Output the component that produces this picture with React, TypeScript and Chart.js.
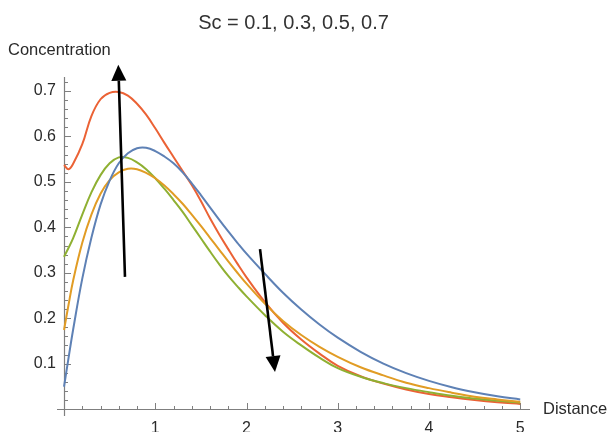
import React, { useEffect, useRef } from 'react';
import { Chart, registerables } from 'chart.js';

Chart.register(...registerables);

// ---------- data ----------
const titleText = 'Sc = 0.1, 0.3, 0.5, 0.7';
const yAxisLabel = 'Concentration';
const xAxisLabel = 'Distance';
const seriesLabels = ['Sc = 0.1', 'Sc = 0.3', 'Sc = 0.5', 'Sc = 0.7'];
const seriesColors = ['#5E81B5', '#E19C24', '#8FB032', '#EB6235'];

const distance = [0, 0.05, 0.1, 0.2, 0.3, 0.4, 0.5, 0.6, 0.7, 0.8, 0.9, 1.0, 1.1, 1.2, 1.3, 1.4, 1.5, 1.6, 1.7, 1.8, 1.9, 2.0, 2.2, 2.4, 2.6, 2.8, 3.0, 3.25, 3.5, 3.75, 4.0, 4.25, 4.5, 4.75, 5.0];

const blueSeries = [0.049, 0.113, 0.175, 0.287, 0.377, 0.45, 0.503, 0.541, 0.563, 0.574, 0.575, 0.568, 0.556, 0.541, 0.521, 0.497, 0.471, 0.444, 0.417, 0.391, 0.366, 0.342, 0.298, 0.256, 0.219, 0.186, 0.157, 0.126, 0.1, 0.079, 0.062, 0.048, 0.037, 0.028, 0.021];
const orangeSeries = [0.174, 0.23, 0.283, 0.366, 0.428, 0.474, 0.504, 0.521, 0.529, 0.528, 0.52, 0.508, 0.492, 0.473, 0.452, 0.428, 0.403, 0.377, 0.351, 0.325, 0.3, 0.276, 0.232, 0.194, 0.163, 0.137, 0.115, 0.092, 0.074, 0.058, 0.046, 0.036, 0.027, 0.021, 0.016];
const greenSeries = [0.335, 0.355, 0.376, 0.428, 0.477, 0.515, 0.541, 0.554, 0.553, 0.543, 0.528, 0.508, 0.485, 0.46, 0.434, 0.405, 0.376, 0.347, 0.319, 0.293, 0.27, 0.248, 0.207, 0.17, 0.14, 0.113, 0.09, 0.071, 0.057, 0.046, 0.037, 0.029, 0.023, 0.018, 0.014];
const redSeries = [0.537, 0.528, 0.54, 0.583, 0.645, 0.682, 0.696, 0.698, 0.69, 0.672, 0.648, 0.618, 0.586, 0.555, 0.524, 0.493, 0.458, 0.42, 0.385, 0.352, 0.32, 0.29, 0.236, 0.19, 0.153, 0.122, 0.095, 0.072, 0.056, 0.043, 0.033, 0.026, 0.02, 0.015, 0.011];

const xMajorTicks = [1, 2, 3, 4, 5];
const xMinorTicks = [0.2, 0.4, 0.6, 0.8, 1.2, 1.4, 1.6, 1.8, 2.2, 2.4, 2.6, 2.8, 3.2, 3.4, 3.6, 3.8, 4.2, 4.4, 4.6, 4.8, 5.0];
const yMajorTicks = [0.1, 0.2, 0.3, 0.4, 0.5, 0.6, 0.7];
const yMinorTicks = [0.02, 0.04, 0.06, 0.08, 0.12, 0.14, 0.16, 0.18, 0.22, 0.24, 0.26, 0.28, 0.32, 0.34, 0.36, 0.38, 0.42, 0.44, 0.46, 0.48, 0.52, 0.54, 0.56, 0.58, 0.62, 0.64, 0.66, 0.68, 0.72];

// arrows: [x, y] in data units, tail -> head
const arrowUpTail = [0.668, 0.291];
const arrowUpHead = [0.595, 0.758];
const arrowDownTail = [2.148, 0.352];
const arrowDownHead = [2.312, 0.0815];

const xRange = [-0.077, 5.107];
const yRange = [-0.0154, 0.731];

const FONT = "'Liberation Sans', Arial, sans-serif";
const AXIS_COLOR = '#7f7f7f';
const TEXT_COLOR = '#2a2a2a';

function toXY(ys: number[]) {
  return distance.map((d, i) => ({ x: d, y: ys[i] }));
}

const mmaAxesPlugin = {
  id: 'mmaAxes',
  beforeDatasetsDraw(chart: any) {
    const { ctx, chartArea, scales } = chart;
    const xs = scales.x;
    const ys = scales.y;
    const x0 = Math.round(xs.getPixelForValue(0)) + 0.5;
    const y0 = Math.round(ys.getPixelForValue(0)) + 0.5;
    ctx.save();
    ctx.strokeStyle = AXIS_COLOR;
    ctx.lineWidth = 1.2;
    ctx.beginPath();
    ctx.moveTo(chartArea.left, y0);
    ctx.lineTo(chartArea.right, y0);
    ctx.moveTo(x0, chartArea.top);
    ctx.lineTo(x0, chartArea.bottom);
    ctx.stroke();
    ctx.lineWidth = 1;
    ctx.beginPath();
    xMinorTicks.forEach((v) => {
      const p = Math.round(xs.getPixelForValue(v)) + 0.5;
      ctx.moveTo(p, y0);
      ctx.lineTo(p, y0 - 3.5);
    });
    xMajorTicks.forEach((v) => {
      const p = Math.round(xs.getPixelForValue(v)) + 0.5;
      ctx.moveTo(p, y0);
      ctx.lineTo(p, y0 - 6.5);
    });
    yMinorTicks.forEach((v) => {
      const p = Math.round(ys.getPixelForValue(v)) + 0.5;
      ctx.moveTo(x0, p);
      ctx.lineTo(x0 + 3.5, p);
    });
    yMajorTicks.forEach((v) => {
      const p = Math.round(ys.getPixelForValue(v)) + 0.5;
      ctx.moveTo(x0, p);
      ctx.lineTo(x0 + 6.5, p);
    });
    ctx.stroke();
    ctx.restore();
  },
  afterDatasetsDraw(chart: any) {
    const { ctx, scales } = chart;
    const xs = scales.x;
    const ys = scales.y;
    const drawArrow = (tail: number[], head: number[]) => {
      const tx = xs.getPixelForValue(tail[0]);
      const ty = ys.getPixelForValue(tail[1]);
      const hx = xs.getPixelForValue(head[0]);
      const hy = ys.getPixelForValue(head[1]);
      const ang = Math.atan2(hy - ty, hx - tx);
      const headLen = 16;
      const headHalf = 7.5;
      const bx = hx - headLen * Math.cos(ang);
      const by = hy - headLen * Math.sin(ang);
      ctx.save();
      ctx.strokeStyle = '#000';
      ctx.fillStyle = '#000';
      ctx.lineWidth = 2.6;
      ctx.beginPath();
      ctx.moveTo(tx, ty);
      ctx.lineTo(bx, by);
      ctx.stroke();
      ctx.beginPath();
      ctx.moveTo(hx, hy);
      ctx.lineTo(bx + headHalf * Math.sin(ang), by - headHalf * Math.cos(ang));
      ctx.lineTo(bx - headHalf * Math.sin(ang), by + headHalf * Math.cos(ang));
      ctx.closePath();
      ctx.fill();
      ctx.restore();
    };
    drawArrow(arrowUpTail, arrowUpHead);
    drawArrow(arrowDownTail, arrowDownHead);
  },
  afterDraw(chart: any) {
    const { ctx, chartArea, scales } = chart;
    const ys = scales.y;
    const y0 = ys.getPixelForValue(0);
    ctx.save();
    ctx.fillStyle = TEXT_COLOR;
    ctx.font = `16.5px ${FONT}`;
    ctx.textBaseline = 'middle';
    ctx.textAlign = 'left';
    ctx.fillText(yAxisLabel, 8, chartArea.top - 27);
    ctx.fillText(xAxisLabel, chartArea.right + 13, y0);
    ctx.restore();
  },
};

export default function App() {
  const canvasRef = useRef<HTMLCanvasElement | null>(null);

  useEffect(() => {
    if (!canvasRef.current) return;
    const allSeries = [blueSeries, orangeSeries, greenSeries, redSeries];
    const chart = new Chart(canvasRef.current, {
      type: 'line',
      data: {
        datasets: allSeries.map((s, i) => ({
          label: seriesLabels[i],
          data: toXY(s),
          borderColor: seriesColors[i],
          backgroundColor: seriesColors[i],
          borderWidth: 2,
          pointRadius: 0,
          fill: false,
          tension: 0.4,
        })),
      },
      options: {
        animation: false,
        responsive: false,
        devicePixelRatio: 1,
        layout: { padding: { left: 0, right: 80, top: 0, bottom: 0 } },
        plugins: {
          legend: { display: false },
          tooltip: { enabled: false },
          title: {
            display: true,
            text: titleText,
            fullSize: false,
            color: '#333',
            font: { family: FONT, size: 20, weight: 'normal' },
            padding: { top: 11, bottom: 42 },
          },
        },
        scales: {
          x: {
            type: 'linear',
            position: 'bottom',
            min: xRange[0],
            max: xRange[1],
            grid: { display: false, drawTicks: false },
            border: { display: false },
            afterFit: (scale: any) => { scale.height = 16; },
            ticks: {
              stepSize: 1,
              includeBounds: false,
              autoSkip: false,
              maxRotation: 0,
              padding: 3,
              color: TEXT_COLOR,
              font: { family: FONT, size: 16 },
              callback: (v: any) => (xMajorTicks.includes(Number(v)) ? String(v) : ''),
            },
          },
          y: {
            type: 'linear',
            position: 'left',
            min: yRange[0],
            max: yRange[1],
            grid: { display: false, drawTicks: false },
            border: { display: false },
            afterFit: (scale: any) => { scale.width = 57; },
            ticks: {
              stepSize: 0.1,
              includeBounds: false,
              autoSkip: false,
              padding: 1,
              color: TEXT_COLOR,
              font: { family: FONT, size: 16 },
              callback: (v: any) => {
                const n = Math.round(Number(v) * 10) / 10;
                return yMajorTicks.includes(n) ? n.toFixed(1) : '';
              },
            },
          },
        },
      },
      plugins: [mmaAxesPlugin],
    });
    return () => chart.destroy();
  }, []);

  return (
    <div style={{ position: 'absolute', left: 0, top: 0, width: 610, height: 432, background: '#fff' }}>
      <canvas ref={canvasRef} width={610} height={432} />
    </div>
  );
}
